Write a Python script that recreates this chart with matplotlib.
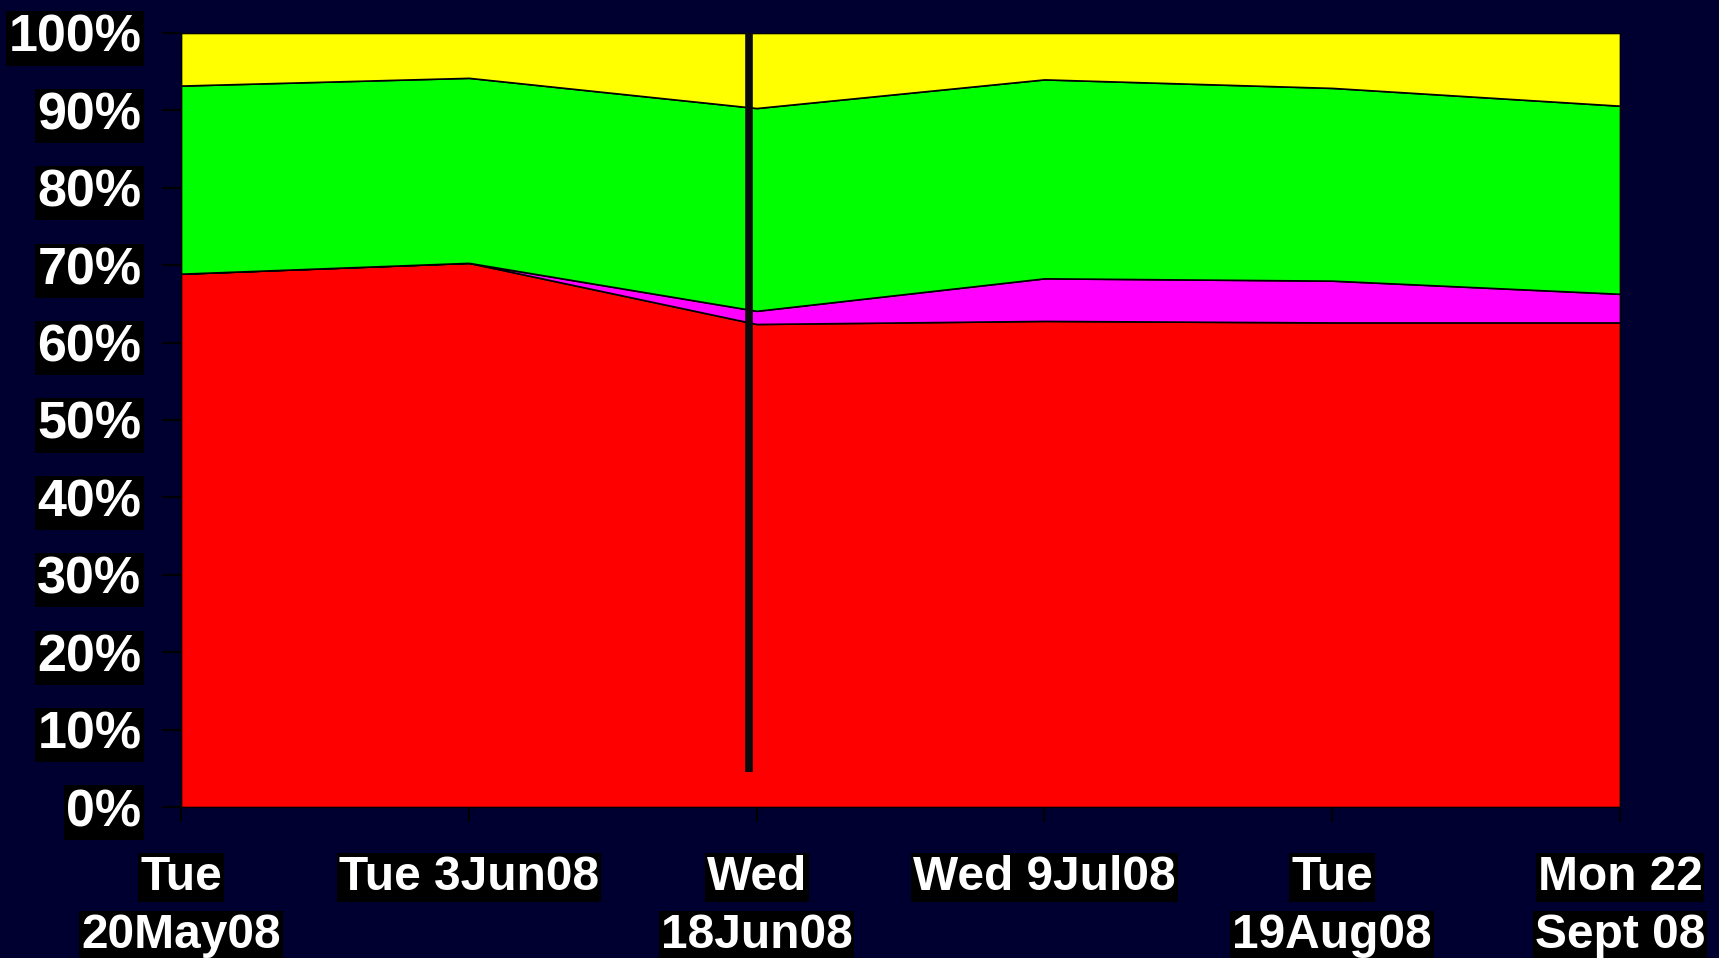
"""
Stacked area chart of percentage shares over six survey dates
"""
import matplotlib
matplotlib.use("Agg")
import matplotlib.pyplot as plt
from matplotlib.ticker import FuncFormatter

# dates (categories)
dates = ["Tue\n20May08", "Tue 3Jun08", "Wed\n18Jun08",
         "Wed 9Jul08", "Tue\n19Aug08", "Mon 22\nSept 08"]

# share of each band, percent (bottom to top)
red = [68.9, 70.3, 62.4, 62.8, 62.6, 62.6]
magenta = [0.0, 0.0, 1.7, 5.5, 5.4, 3.7]
green = [24.3, 23.9, 26.2, 25.7, 24.9, 24.3]
yellow = [6.8, 5.8, 9.7, 6.0, 7.1, 9.4]

band_colors = ["#ff0000", "#ff00ff", "#00ff00", "#ffff00"]
bg = "#000030"

# vertical marker line drawn just before the 18Jun08 point
marker_x = 1.975
marker_from, marker_to = 4.5, 100

plt.rcParams["font.family"] = ["Liberation Sans", "DejaVu Sans"]
plt.rcParams["font.weight"] = "bold"

fig = plt.figure(figsize=(17.19, 9.58), dpi=100, facecolor=bg)
ax = fig.add_axes([0.1053, 0.1576, 0.8371, 0.808])
ax.set_facecolor(bg)

x = list(range(len(dates)))
ax.stackplot(x, red, magenta, green, yellow, colors=band_colors,
             edgecolor="black", linewidth=1.2)

ax.vlines(marker_x, marker_from, marker_to, color="#0a0a0a", linewidth=5.5)

ax.set_xlim(0, len(dates) - 1)
ax.set_ylim(0, 100)
for s in ax.spines.values():
    s.set_visible(False)

# y axis
ax.set_yticks(range(0, 101, 10))
ax.yaxis.set_major_formatter(FuncFormatter(lambda v, p: f"{v:.0f}%"))
ax.tick_params(axis="y", direction="out", length=13.5, width=1.5,
               color="black", pad=15, labelsize=37.5, labelcolor="white")
for lab in ax.get_yticklabels():
    lab.set_fontweight("bold")
    lab.set_bbox(dict(facecolor="black", edgecolor="none", pad=2))

# x axis: ticks only, labels drawn line by line so each gets its own box
ax.set_xticks(x)
ax.set_xticklabels([""] * len(x))
ax.tick_params(axis="x", direction="out", length=11, width=1.5, color="black")

for i, lab in enumerate(dates):
    for j, line in enumerate(lab.split("\n")):
        ax.annotate(line, xy=(i, 0), xycoords=("data", "axes fraction"),
                    xytext=(0, -34.5 - 42 * j), textcoords="offset points",
                    ha="center", va="top", fontsize=34.5, fontweight="bold",
                    color="white", annotation_clip=False,
                    bbox=dict(facecolor="black", edgecolor="none", pad=1.5))

plt.savefig("out.png", dpi=100, facecolor=bg)
